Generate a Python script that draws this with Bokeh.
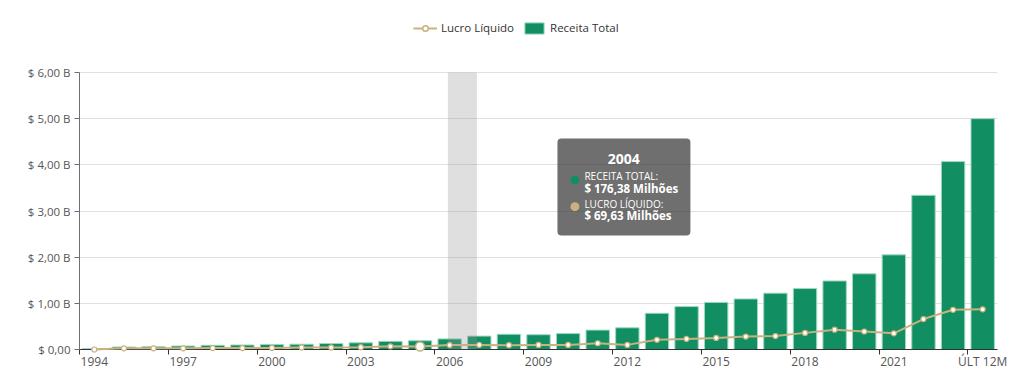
from bokeh.plotting import figure
from bokeh.models import (FixedTicker, Legend, LegendItem, BoxAnnotation, Label, Range1d,
                          CDSView, IndexFilter, ColumnDataSource)
from bokeh.embed import file_html
from bokeh.resources import INLINE

# ---------------- data (values in billions of R$) ----------------
years = ["1994", "1995", "1996", "1997", "1998", "1999", "2000", "2001", "2002", "2003",
         "2004", "2005", "2006", "2007", "2008", "2009", "2010", "2011", "2012", "2013",
         "2014", "2015", "2016", "2017", "2018", "2019", "2020", "2021", "2022", "2023",
         "ÚLT 12M"]
receita_total = [0.020, 0.054, 0.061, 0.076, 0.091, 0.098, 0.110, 0.115, 0.130, 0.145,
                 0.17638, 0.190, 0.230, 0.290, 0.330, 0.320, 0.345, 0.420, 0.470, 0.785,
                 0.930, 1.020, 1.095, 1.220, 1.320, 1.485, 1.640, 2.050, 3.340, 4.070,
                 5.000]
lucro_liquido = [0.000, 0.025, 0.025, 0.025, 0.030, 0.030, 0.035, 0.045, 0.045, 0.050,
                 0.06963, 0.065, 0.095, 0.100, 0.093, 0.100, 0.100, 0.135, 0.100, 0.210,
                 0.230, 0.250, 0.280, 0.290, 0.360, 0.430, 0.390, 0.350, 0.660, 0.860,
                 0.870]
y_ticks = [0, 1, 2, 3, 4, 5, 6]
y_tick_labels = ["$ 0,00", "$ 1,00 B", "$ 2,00 B", "$ 3,00 B", "$ 4,00 B", "$ 5,00 B", "$ 6,00 B"]
tooltip_year = "2004"
hover_point_year = "2005"

idx = list(range(len(years)))
label_step = 3

FONT = "Open Sans"
GREEN = "#118f63"
TAN = "#c9b27f"
TXT = "#555555"

src = ColumnDataSource(data=dict(x=idx, receita=receita_total, lucro=lucro_liquido))

# frame: 918 px wide; y scale 46.167 px per unit; extra headroom above 6 holds the legend
PX_PER_UNIT = 277 / 6.0
FRAME_H = 339
p = figure(width=1014, height=380,
           x_range=Range1d(-0.5, len(years) - 0.5),
           y_range=Range1d(0, FRAME_H / PX_PER_UNIT),
           output_backend="svg", toolbar_location=None,
           min_border_left=79, min_border_right=17, min_border_top=10, min_border_bottom=31)
p.outline_line_color = None
p.background_fill_color = "white"
p.border_fill_color = "white"

# grid
p.xgrid.visible = False
p.ygrid.ticker = FixedTicker(ticks=y_ticks)
p.ygrid.grid_line_color = "#e0e0e0"
p.ygrid.grid_line_width = 1

# y axis
ya = p.yaxis[0]
ya.ticker = FixedTicker(ticks=y_ticks, minor_ticks=[])
ya.bounds = (y_ticks[0], y_ticks[-1])
ya.major_label_overrides = {t: l for t, l in zip(y_ticks, y_tick_labels)}
ya.axis_line_color = "#6e6e6e"
ya.major_tick_line_color = "#6e6e6e"
ya.major_tick_out = 5
ya.major_tick_in = 0
ya.major_label_text_font = FONT
ya.major_label_text_font_size = "11.5px"
ya.major_label_text_color = TXT
ya.major_label_standoff = 4

# x axis: labels centred on categories, tick marks on category boundaries
xa = p.xaxis[0]
major = idx[::label_step]
xa.ticker = FixedTicker(ticks=major, minor_ticks=[i - 0.5 for i in major])
xa.major_label_overrides = {i: years[i] for i in major}
xa.axis_line_color = "#333333"
xa.major_tick_out = 0
xa.major_tick_in = 0
xa.minor_tick_out = 5
xa.minor_tick_in = 0
xa.minor_tick_line_color = "#333333"
xa.major_label_text_font = FONT
xa.major_label_text_font_size = "12px"
xa.major_label_text_color = TXT
xa.major_label_standoff = -2

# bars
bars = p.vbar(x="x", top="receita", width=0.79, bottom=0, source=src,
              fill_color=GREEN, line_color="#9fd8c0", line_width=1)

# hover shadow band (as in the captured state of the chart)
band = BoxAnnotation(left=11.94, right=12.92, bottom=0, top=y_ticks[-1],
                     fill_color="#969696", fill_alpha=0.3, line_alpha=0)
p.add_layout(band)

# line + dots
line = p.line(x="x", y="lucro", source=src, line_color=TAN, line_width=2, level="overlay")
dots = p.scatter(x="x", y="lucro", source=src, size=5, fill_color="white",
                 line_color=TAN, line_width=1.2, level="overlay")
hi = years.index(hover_point_year)
hover_dot = p.scatter(x="x", y="lucro", source=src, view=CDSView(filter=IndexFilter([hi])),
                      size=9, fill_color="white", line_color=TAN, line_width=1.5,
                      level="overlay")

# legend
legend = Legend(items=[LegendItem(label="Lucro Líquido", renderers=[line, hover_dot]),
                       LegendItem(label="Receita Total", renderers=[bars])],
                orientation="horizontal", location=(334, 314),
                padding=0, margin=0, spacing=8, label_standoff=4,
                glyph_width=24, glyph_height=14,
                border_line_color=None, background_fill_alpha=0,
                label_text_font=FONT, label_text_font_size="11.5px",
                label_text_color="#333333")
p.add_layout(legend)

# tooltip (captured state)
ti = years.index(tooltip_year)
def fmt_mi(v):
    return "$ " + f"{v * 1000:.2f}".replace(".", ",") + " Milhões"

tip = BoxAnnotation(left=15.64, right=20.13, bottom=2.469, top=4.570,
                    fill_color="#323232", fill_alpha=0.7, line_alpha=0,
                    border_radius=4, level="overlay")
p.add_layout(tip)

dx = 4.5 / 29.613
dy = 4.5 / PX_PER_UNIT
for (cx, cy, col) in [(16.23, 3.674, GREEN), (16.23, 3.094, TAN)]:
    p.add_layout(BoxAnnotation(left=cx - dx, right=cx + dx, bottom=cy - dy, top=cy + dy,
                               fill_color=col, fill_alpha=1, line_alpha=0,
                               border_radius=5, level="overlay"))

def tl(x, y, text, size, bold=False, align="left"):
    lab = Label(x=x, y=y, text=text, text_color="white", text_font=FONT,
                text_font_size=size, text_font_style="bold" if bold else "normal",
                text_align=align, text_baseline="middle", level="overlay")
    p.add_layout(lab)

tl(17.88, 4.130, years[ti], "14px", bold=True, align="center")
tl(16.55, 3.755, "RECEITA TOTAL:", "10px")
tl(16.55, 3.490, fmt_mi(receita_total[ti]), "11.5px", bold=True)
tl(16.55, 3.155, "LUCRO LÍQUIDO:", "10px")
tl(16.55, 2.895, fmt_mi(lucro_liquido[ti]), "11.5px", bold=True)

open("out.html", "w").write(file_html(p, INLINE))
